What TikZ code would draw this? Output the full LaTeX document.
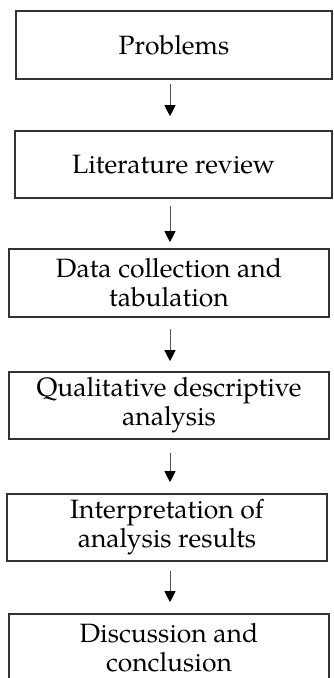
\documentclass[tikz,border=0pt]{standalone}
\usepackage{fontspec}
\setmainfont{TeX Gyre Pagella}
\usetikzlibrary{arrows.meta}
\definecolor{boxline}{HTML}{333333}
\definecolor{arrline}{HTML}{555555}
\tikzset{
  stepbox/.style={draw=boxline, line width=1.6pt, rectangle, inner sep=0pt,
    align=center, font=\fontsize{26.5}{29}\selectfont, text=black},
  arr/.style={draw=arrline, line width=1pt, -{Triangle[width=11pt,length=11pt,color=black]}}
}
\begin{document}
\begin{tikzpicture}[x=1pt,y=-1pt]
\useasboundingbox (0,0) rectangle (333,678);
\coordinate (ax) at (170,0);
\node[stepbox, minimum width=316pt, minimum height=68pt] (n1) at (174,45) {Problems};
\node[stepbox, minimum width=317pt, minimum height=67pt] (n2) at (173.5,164.5) {Literature review};
\node[stepbox, minimum width=320pt, minimum height=68pt] (n3) at (169,283) {Data collection and\\tabulation};
\node[stepbox, minimum width=320pt, minimum height=67pt] (n4) at (169,405.5) {Qualitative descriptive\\analysis};
\node[stepbox, minimum width=320pt, minimum height=67pt] (n5) at (167,527.5) {Interpretation of\\analysis results};
\node[stepbox, minimum width=320pt, minimum height=68pt] (n6) at (169,648) {Discussion and\\conclusion};
\draw[arr, shorten <=4pt, shorten >=14pt] (n1.south -| ax) -- (n2.north -| ax);
\draw[arr, shorten <=7pt, shorten >=6pt] (n2.south -| ax) -- (n3.north -| ax);
\draw[arr, shorten <=11pt, shorten >=10pt] (n3.south -| ax) -- (n4.north -| ax);
\draw[arr, shorten <=13pt, shorten >=11pt] (n4.south -| ax) -- (n5.north -| ax);
\draw[arr, shorten <=9pt, shorten >=11pt] (n5.south -| ax) -- (n6.north -| ax);
\end{tikzpicture}
\end{document}
